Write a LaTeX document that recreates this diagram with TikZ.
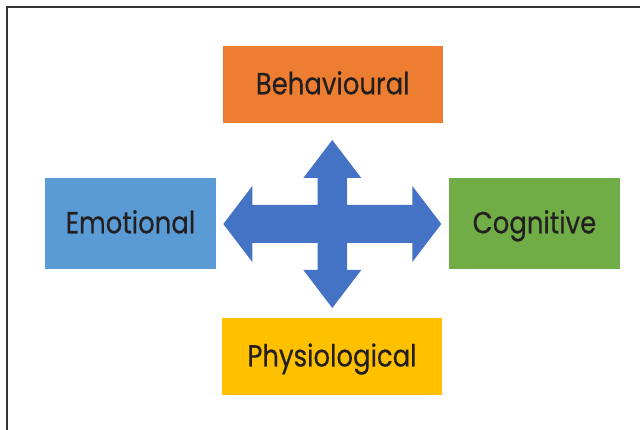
\documentclass[tikz,border=0pt]{standalone}
\usepackage{fontspec}
\setmainfont[FakeStretch=0.85, FakeBold=0.4]{Poppins}
\usepackage{tikz}
\usetikzlibrary{calc}
\definecolor{behorange}{HTML}{ED7D31}
\definecolor{emoblue}{HTML}{5B9BD5}
\definecolor{coggreen}{HTML}{70AD47}
\definecolor{phygold}{HTML}{FFC000}
\definecolor{crossblue}{HTML}{4472C4}
\definecolor{labeltext}{HTML}{231F20}
\tikzstyle{block} = [rectangle, text=labeltext, text centered, font=\fontsize{30.5}{33}\selectfont, inner sep=0pt, text height=20pt, text depth=0pt]
\tikzstyle{wide} = [block, minimum width=220, minimum height=77]
\tikzstyle{side} = [block, minimum width=171, minimum height=91]
\tikzset{frame/.style = {
    line width=2pt,
    draw=black!80,
  }
}

\begin{document}
\begin{tikzpicture}[x=1pt, y=-1pt]
            \useasboundingbox (0,0) rectangle (640,430);
            \draw[frame] (7,430) -- (7,7) -- (640,7);

            % vertices
            \node[wide, fill=behorange] (beh) at (332.7, 84.3) {Behavioural};
            \node[side, fill=emoblue] (emo) at (130.5, 223.3) {Emotional};
            \node[side, fill=coggreen] (cog) at (534.5, 223.3) {Cognitive};
            \node[wide, fill=phygold] (phy) at (332, 356.5) {Physiological};

            % cross
            \coordinate (c) at (332.3, 224);
            \fill[crossblue] ($(c)+(0,-84)$) -- ($(c)+(29,-46)$) -- ($(c)+(14.7,-46)$)
              -- ($(c)+(14.7,-19)$) -- ($(c)+(80,-19)$) -- ($(c)+(80,-38)$)
              -- ($(c)+(109,0)$) -- ($(c)+(80,38)$) -- ($(c)+(80,19)$)
              -- ($(c)+(14.7,19)$) -- ($(c)+(14.7,46)$) -- ($(c)+(29,46)$)
              -- ($(c)+(0,84)$) -- ($(c)+(-29,46)$) -- ($(c)+(-14.7,46)$)
              -- ($(c)+(-14.7,19)$) -- ($(c)+(-80,19)$) -- ($(c)+(-80,38)$)
              -- ($(c)+(-109,0)$) -- ($(c)+(-80,-38)$) -- ($(c)+(-80,-19)$)
              -- ($(c)+(-14.7,-19)$) -- ($(c)+(-14.7,-46)$) -- ($(c)+(-29,-46)$)
              -- cycle;
\end{tikzpicture}
\end{document}
